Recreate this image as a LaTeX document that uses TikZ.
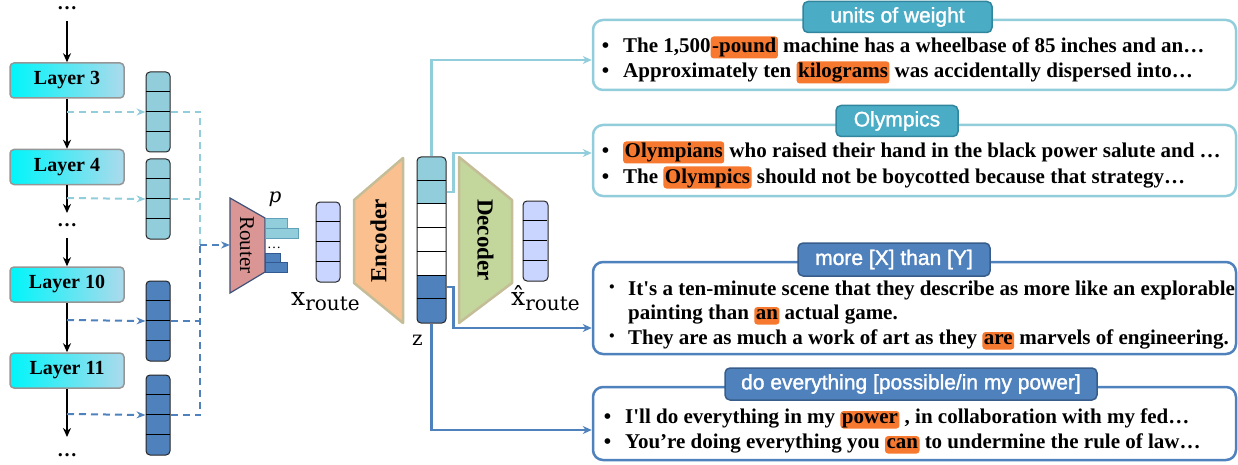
\documentclass[tikz,border=0pt]{standalone}
\usepackage{fontspec}
\setmainfont{Liberation Serif}
\newfontfamily\tagfont[FakeBold=1.5]{Liberation Sans}
\newfontfamily\symfont{DejaVu Serif}
\usetikzlibrary{arrows.meta,positioning}

\definecolor{lblue}{RGB}{146,205,220}
\definecolor{lbluedark}{RGB}{96,160,185}
\definecolor{dblue}{RGB}{79,129,189}
\definecolor{dbluedark}{RGB}{50,90,145}
\definecolor{tagteal}{RGB}{75,172,198}
\definecolor{tagtealedge}{RGB}{49,133,156}
\definecolor{tagblueedge}{RGB}{56,93,138}
\definecolor{hlorange}{RGB}{246,121,47}
\definecolor{layercyan}{RGB}{0,245,250}
\definecolor{layerblue}{RGB}{172,218,236}
\definecolor{layeredge}{RGB}{150,150,150}
\definecolor{routerred}{RGB}{218,150,148}
\definecolor{routeredge}{RGB}{62,82,122}
\definecolor{encorange}{RGB}{250,192,144}
\definecolor{decgreen}{RGB}{195,214,155}
\definecolor{coderedge}{RGB}{196,189,151}
\definecolor{xlav}{RGB}{201,212,255}

\newcommand{\hl}[1]{\tikz[baseline=(hw.base)]\node[fill=hlorange,rounded corners=3pt,inner xsep=1.5pt,inner ysep=2pt,text depth=3.5pt](hw){#1};}

\tikzset{
  layerbox/.style={draw=layeredge, line width=1.5pt, rounded corners=4pt, minimum width=114pt, minimum height=35pt, left color=layercyan, right color=layerblue, inner sep=0, font=\fontsize{20}{24}\selectfont\bfseries},
  stem/.style={line width=1.8pt, -{Stealth[length=9pt,width=8pt]}},
  dots/.style={anchor=base, inner sep=0, font=\fontsize{20}{24}\selectfont\bfseries},
  vecbox/.style={draw=black!85, line width=1pt, rounded corners=4pt, minimum width=24pt, minimum height=80pt, inner sep=0},
  ldash/.style={draw=lblue, line width=2pt, dash pattern=on 7pt off 5pt},
  ddash/.style={draw=dblue, line width=2pt, dash pattern=on 7pt off 5pt},
  tip/.style={-{Stealth[length=9pt,width=7pt]}},
  bar/.style={line width=0.8pt},
  coder/.style={draw=coderedge, line width=2.5pt, line join=round},
  codertext/.style={inner sep=0, font=\fontsize{23}{24}\selectfont\bfseries},
  lconn/.style={draw=lblue, line width=2.2pt, -{Stealth[length=9pt,width=8pt]}},
  dconn/.style={draw=dblue, line width=2.2pt, -{Stealth[length=9pt,width=8pt]}},
  ebox/.style={line width=2.5pt, rounded corners=10pt, fill=white, minimum width=643pt, inner sep=0},
  tagbox/.style={line width=1.5pt, rounded corners=5pt, text=white, inner sep=0, minimum height=31pt, font=\tagfont\fontsize{21}{24}\selectfont},
  txt/.style={anchor=base west, inner sep=0, font=\fontsize{21}{25}\selectfont\bfseries}
}

\begin{document}
\begin{tikzpicture}[x=1pt, y=-1pt]
\useasboundingbox (0,0) rectangle (1238,465);

\node[layerbox] (l3) at (67,80.5) {Layer 3};
\node[layerbox] (l4) at (67,167) {Layer 4};
\node[layerbox] (l10) at (67,284.5) {Layer 10};
\node[layerbox] (l11) at (67,370.5) {Layer 11};
\node[dots, text height=4pt] (d0) at (67,10) {…};
\node[dots] (d1) at (67,226) {…};
\node[dots] (d2) at (67,456) {…};
\coordinate (s0) at (67,21);
\coordinate (s1) at (67,213);
\coordinate (s2) at (67,238);
\coordinate (s3) at (67,437);
\draw[stem] (s0) -- (l3.north);
\draw[stem] (l3.south) -- (l4.north);
\draw[stem] (l4.south) -- (s1);
\draw[stem] (s2) -- (l10.north);
\draw[stem] (l10.south) -- (l11.north);
\draw[stem] (l11.south) -- (s3);

\node[vecbox, fill=lblue] (v1) at (158,112) {};
\node[vecbox, fill=lblue] (v2) at (158,199) {};
\node[vecbox, fill=dblue] (v3) at (158,321) {};
\node[vecbox, fill=dblue] (v4) at (158,415) {};
\node[vecbox, fill=xlav] (xr) at (328,242) {};
\node[vecbox, fill=xlav, minimum width=25pt] (xh) at (535.5,241) {};
\foreach \vname in {v1,v2,v3,v4,xr,xh}
  \foreach \k in {1,2,3}
    \draw[line width=1pt] (\vname.north west) ++(0,20*\k) -- ++(24,0);

\coordinate (t3) at (67,112);
\coordinate (t4) at (67,198);
\coordinate (t10) at (67,320);
\coordinate (t11) at (67,414);
\coordinate (c0) at (200,245);
\draw[ldash, tip] (t3) -- (v1.west);
\draw[ldash, tip] (t4) -- (v2.west);
\draw[ddash, tip] (t10) -- (v3.west);
\draw[ddash, tip] (t11) -- (v4.west);
\draw[ldash] (v1.east) -| (c0);
\draw[ldash] (v2.east) -- (v2.east -| c0);
\draw[ddash] (v4.east) -| (c0);
\draw[ddash] (v3.east) -- (v3.east -| c0);

\draw[fill=routerred, draw=routeredge, line width=1.2pt] (230,198) -- (265,218) -- (265,272) -- (230,293) -- cycle;
\node[rotate=-90, inner sep=0, font=\fontsize{21}{24}\selectfont] (router) at (247,245) {Router};
\coordinate (rin) at (230,245);
\draw[ddash, tip] (c0) -- (rin);

\draw[bar, fill=lblue, draw=lbluedark] (265,218) rectangle (287,228);
\draw[bar, fill=lblue, draw=lbluedark] (265,228) rectangle (298,238);
\draw[bar, fill=dblue, draw=dbluedark] (265,253) rectangle (280,262);
\draw[bar, fill=dblue, draw=dbluedark] (265,262) rectangle (287,272);
\node[anchor=base, inner sep=0, font=\fontsize{14}{14}\selectfont] (bd) at (274,248) {…};
\node[anchor=base, inner sep=0, font=\symfont\itshape\fontsize{20}{20}\selectfont] (p) at (275,202) {p};

\node[anchor=base west, inner sep=0] (xrl) at (291,305) {\symfont\fontsize{25}{25}\selectfont x\raisebox{-5pt}{\fontsize{20}{20}\selectfont route}};
\node[anchor=base west, inner sep=0] (xhl) at (511,305) {\symfont\fontsize{25}{25}\selectfont \^{x}\raisebox{-5pt}{\fontsize{20}{20}\selectfont route}};

\draw[coder, fill=encorange] (354,200) -- (403,158) -- (403,323) -- (354,283) -- cycle;
\node[codertext, rotate=90] (enc) at (378.5,241) {Encoder};
\draw[coder, fill=decgreen] (459,157) -- (512,200) -- (512,283) -- (459,323) -- cycle;
\node[codertext, rotate=-90] (dec) at (485.5,240) {Decoder};

\begin{scope}
  \clip[rounded corners=4pt] (417,157) rectangle (446,323);
  \fill[white] (417,157) rectangle (446,323);
  \fill[lblue] (417,157) rectangle (446,204.43);
  \fill[dblue] (417,275.57) rectangle (446,323);
\end{scope}
\node[vecbox, minimum width=29pt, minimum height=166pt] (z) at (431.5,240) {};
\foreach \k in {1,...,6}
  \draw[line width=1pt] (z.north west) ++(0,23.714*\k) -- ++(29,0);
\node[anchor=base west, inner sep=0, font=\symfont\fontsize{20}{20}\selectfont] (zl) at (412,345) {z};

\node[ebox, draw=lblue, minimum height=70pt] (b1) at (914.5,55) {};
\node[ebox, draw=lblue, minimum height=71pt] (b2) at (914.5,160.5) {};
\node[ebox, draw=dblue, minimum height=92pt] (b3) at (914.5,308) {};
\node[ebox, draw=dblue, minimum height=73pt] (b4) at (914.5,423.5) {};

\node[tagbox, fill=tagteal, draw=tagtealedge, minimum width=189pt] (g1) at (897.5,17) {units of weight};
\node[tagbox, fill=tagteal, draw=tagtealedge, minimum width=122pt] (g2) at (897,121) {Olympics};
\node[tagbox, fill=dblue, draw=tagblueedge, minimum width=192pt, minimum height=33pt] (g3) at (894,259.5) {more [X] than [Y]};
\node[tagbox, fill=dblue, draw=tagblueedge, minimum width=372pt, minimum height=32pt] (g4) at (911,384) {do everything [possible/in my power]};

\draw[lconn] (z.north) |- ([yshift=-5pt]b1.west);
\draw[lconn] (z.north east) ++(0,35.57) -- ++(7,0) |- ([yshift=7.5pt]b2.west);
\draw[dconn] (z.north east) ++(0,130.43) -- ++(7,0) |- ([yshift=-20pt]b3.west);
\draw[dconn] (z.south) |- ([yshift=-6.5pt]b4.west);

\node[txt] (e11) at (623,53) {\llap{•\hspace{14pt}}The 1,500\hl{-pound} machine has a wheelbase of 85 inches and an…};
\node[txt] (e12) at (623,78) {\llap{•\hspace{14pt}}Approximately ten \hl{kilograms} was accidentally dispersed into…};
\node[txt] (e21) at (623,158) {\llap{•\hspace{14pt}}\hl{Olympians} who raised their hand in the black power salute and …};
\node[txt] (e22) at (623,183) {\llap{•\hspace{14pt}}The \hl{Olympics} should not be boycotted because that strategy…};
\node[txt] (e31) at (628,295) {\llap{\fontsize{26}{26}\selectfont·\hspace{12pt}}It\textquotesingle s a ten-minute scene that they describe as more like an explorable};
\node[txt] (e32) at (628,319) {painting than \hl{an} actual game.};
\node[txt] (e33) at (628,344) {\llap{\fontsize{26}{26}\selectfont·\hspace{12pt}}They are as much a work of art as they \hl{are} marvels of engineering.};
\node[txt] (e41) at (625,423) {\llap{•\hspace{14pt}}I\textquotesingle ll do everything in my \hl{power} , in collaboration with my fed…};
\node[txt] (e42) at (625,448) {\llap{•\hspace{14pt}}You’re doing everything you \hl{can} to undermine the rule of law…};
\end{tikzpicture}
\end{document}
